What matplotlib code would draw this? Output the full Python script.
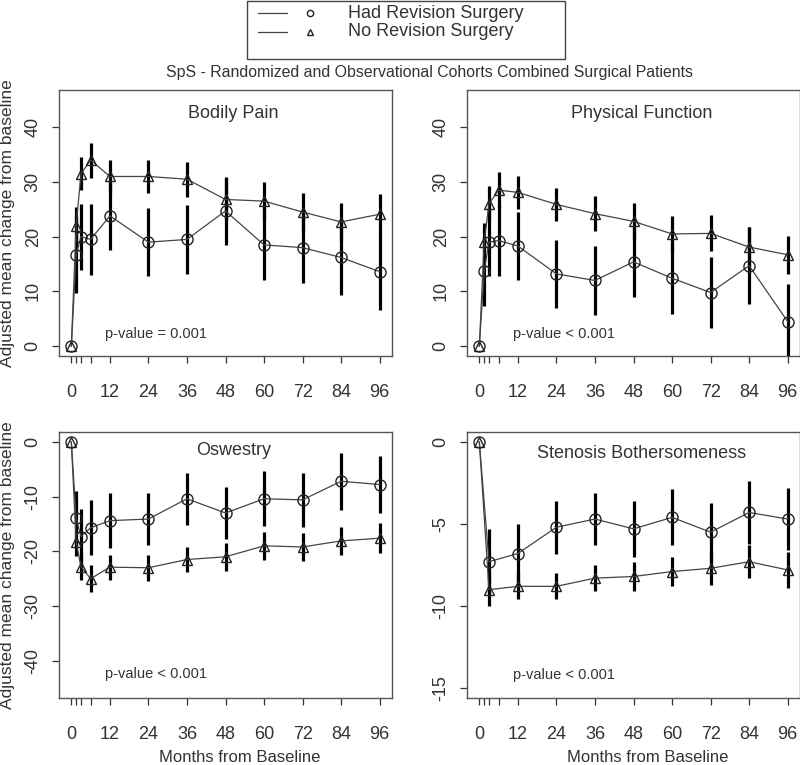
import numpy as np
import matplotlib.pyplot as plt
from matplotlib.lines import Line2D
from matplotlib.patches import Rectangle

plt.rcParams['font.family'] = ['Liberation Sans', 'DejaVu Sans']

# visit times (months); SBI not collected at 6 weeks / 6 months
months = [0, 1.5, 3, 6, 12, 24, 36, 48, 60, 72, 84, 96]
months_sbi = [0, 3, 12, 24, 36, 48, 60, 72, 84, 96]
xtick_pos = [0, 1.5, 3, 6, 12, 24, 36, 48, 60, 72, 84, 96]
xtick_lab = ['0', '', '', '', '12', '24', '36', '48', '60', '72', '84', '96']

# Bodily Pain
bp_rev = [0, 16.7, 20.0, 19.5, 23.8, 19.0, 19.5, 24.7, 18.5, 18.0, 16.2, 13.6]
bp_rev_err = [0, 7.0, 6.0, 6.5, 6.3, 6.2, 6.3, 6.2, 6.5, 6.5, 6.8, 7.0]
bp_norev = [0, 22.0, 31.5, 34.0, 31.0, 31.0, 30.5, 26.8, 26.5, 24.5, 22.7, 24.1]
bp_norev_err = [0, 3.5, 3.0, 3.2, 3.1, 3.1, 3.2, 4.0, 3.5, 3.5, 3.5, 3.7]

# Physical Function
pf_rev = [0, 13.7, 19.0, 19.3, 18.3, 13.2, 12.0, 15.4, 12.4, 9.8, 14.7, 4.5]
pf_rev_err = [0, 6.3, 6.2, 6.5, 6.3, 6.2, 6.3, 6.5, 6.5, 6.5, 7.0, 6.8]
pf_norev = [0, 19.0, 26.0, 28.5, 28.1, 25.9, 24.2, 22.8, 20.5, 20.6, 18.1, 16.7]
pf_norev_err = [0, 3.5, 3.2, 3.3, 3.0, 3.0, 3.2, 3.3, 3.3, 3.3, 3.6, 3.5]

# Oswestry
odi_rev = [0, -14.0, -17.3, -15.7, -14.4, -14.1, -10.4, -13.0, -10.4, -10.6, -7.2, -7.8]
odi_rev_err = [0, 5.0, 5.0, 5.0, 5.0, 4.8, 4.8, 4.8, 5.0, 5.0, 5.2, 5.2]
odi_norev = [0, -18.3, -22.8, -25.0, -22.9, -23.0, -21.5, -21.0, -19.0, -19.2, -18.1, -17.6]
odi_norev_err = [0, 2.5, 2.5, 2.5, 2.3, 2.4, 2.3, 2.6, 2.6, 2.5, 2.6, 2.7]

# Stenosis Bothersomeness
sbi_rev = [0, -7.3, -6.8, -5.2, -4.7, -5.3, -4.6, -5.5, -4.3, -4.7]
sbi_rev_err = [0, 2.0, 1.8, 1.6, 1.6, 1.7, 1.7, 1.8, 1.9, 1.9]
sbi_norev = [0, -9.0, -8.8, -8.8, -8.3, -8.2, -7.9, -7.7, -7.3, -7.8]
sbi_norev_err = [0, 1.0, 0.8, 0.8, 0.8, 0.9, 0.9, 1.0, 1.0, 1.1]

panels = [
    ('Bodily Pain', months, bp_rev, bp_rev_err, bp_norev, bp_norev_err,
     (0, 45), [0, 10, 20, 30, 40], 42.5, 'p-value = 0.001', 2.3),
    ('Physical Function', months, pf_rev, pf_rev_err, pf_norev, pf_norev_err,
     (0, 45), [0, 10, 20, 30, 40], 42.5, 'p-value < 0.001', 2.3),
    ('Oswestry', months, odi_rev, odi_rev_err, odi_norev, odi_norev_err,
     (-45, 0), [0, -10, -20, -30, -40], -1.6, 'p-value < 0.001', -42.4),
    ('Stenosis Bothersomeness', months_sbi, sbi_rev, sbi_rev_err, sbi_norev, sbi_norev_err,
     (-15, 0), [0, -5, -10, -15], -0.7, 'p-value < 0.001', -14.2),
]

W, H = 800, 765
fig = plt.figure(figsize=(8, 7.65), dpi=100)
boxes = [(59, 90), (467, 90), (59, 432), (467, 432)]
bw, bh = 333, 266

line_col = '#444444'
for (title, x, rev, rev_e, norev, norev_e, ylim, yticks, ty, ptxt, py), (bx, by) in zip(panels, boxes):
    ax = fig.add_axes([bx / W, 1 - (by + bh) / H, bw / W, bh / H])
    for y, e, mk, ms in [(rev, rev_e, 'o', 8), (norev, norev_e, '^', 7.5)]:
        y = np.array(y)
        e = np.array(e)
        ax.vlines(x, y - e, y + e, color='black', lw=2.3, zorder=2)
        ax.plot(x, y, color=line_col, lw=0.9, marker=mk, ms=ms, mfc='none',
                mec='#222222', mew=1.0, zorder=3)
    r = ylim[1] - ylim[0]
    ax.set_ylim(ylim[0] - 0.04 * r, ylim[1] + 0.04 * r)
    ax.set_xlim(-3.84, 99.84)
    ax.set_xticks(xtick_pos)
    ax.set_xticklabels(xtick_lab)
    ax.set_yticks(yticks)
    ax.set_yticklabels([str(t) for t in yticks], rotation=90, va='center')
    ax.tick_params(axis='x', length=5, width=0.9, colors='#333333', labelsize=13, pad=15,
                   labelcolor='#333333')
    ax.tick_params(axis='y', length=5, width=0.9, colors='#333333', labelsize=13, pad=7.5,
                   labelcolor='#333333')
    for s in ax.spines.values():
        s.set_color('#555555')
        s.set_linewidth(1.0)
    ax.text(50.5, ty, title, ha='center', va='center', fontsize=13, color='#333333')
    ax.text(26.3, py, ptxt, ha='center', va='center', fontsize=10.5, color='#333333')
    if bx < 200:
        fig.text(8 / W, 1 - (by + bh / 2) / H, 'Adjusted mean change from baseline',
                 rotation=90, ha='center', va='center', fontsize=12.5, color='#333333')
    if by > 200:
        fig.text((bx + 14 + bw / 2) / W, 1 - 758 / H, 'Months from Baseline',
                 ha='center', va='center', fontsize=12, color='#333333')

fig.text(429 / W, 1 - 73 / H,
         'SpS - Randomized and Observational Cohorts Combined Surgical Patients',
         ha='center', va='center', fontsize=11.4, color='#333333')

# legend box at top
fig.add_artist(Rectangle((247 / W, 1 - 59 / H), (565 - 247) / W, 58 / H,
                         transform=fig.transFigure, fill=False, ec='#444444', lw=1.0))
labels = ['Had Revision Surgery', 'No Revision Surgery']
markers = ['o', '^']
for i, (lab, mk) in enumerate(zip(labels, markers)):
    yy = 1 - (13 + 19 * i) / H
    fig.add_artist(Line2D([258 / W, 287 / W], [yy, yy], transform=fig.transFigure,
                          color=line_col, lw=0.9))
    fig.add_artist(Line2D([310 / W], [yy], transform=fig.transFigure, marker=mk,
                          ms=4.5, mfc='none', mec='#222222', mew=1.0, ls='none'))
    fig.text(348 / W, yy, lab, ha='left', va='center', fontsize=13, color='#333333')

fig.savefig('out.png', dpi=100)
